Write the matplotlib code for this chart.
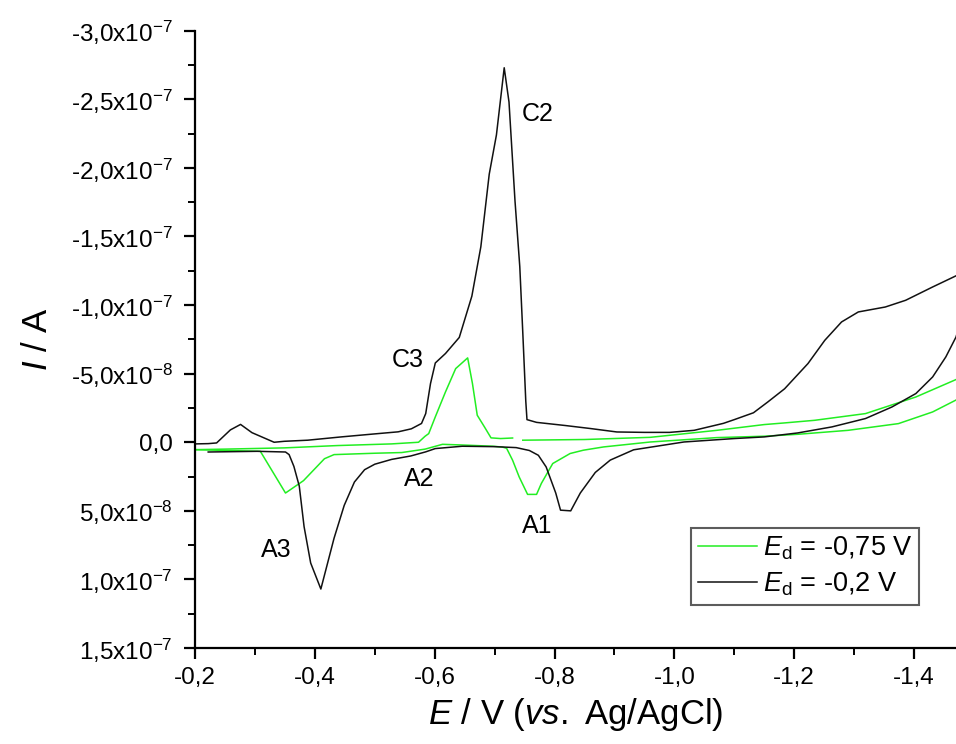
import numpy as np
import matplotlib
matplotlib.use("Agg")
import matplotlib.pyplot as plt
from matplotlib.ticker import MultipleLocator, FuncFormatter

plt.rcParams['font.family'] = ['Liberation Sans', 'DejaVu Sans']
plt.rcParams['mathtext.fontset'] = 'custom'
plt.rcParams['mathtext.rm'] = 'Liberation Sans'
plt.rcParams['mathtext.it'] = 'Liberation Sans:italic'
plt.rcParams['mathtext.default'] = 'regular'

# courbe noire, Ed = -0,2 V (courant en 1e-8 A)
E_noir_aller = [-0.200, -0.222, -0.236, -0.259, -0.276, -0.295, -0.332, -0.349, -0.388,
                -0.444, -0.500, -0.539, -0.561, -0.578, -0.585, -0.593, -0.601, -0.618,
                -0.641, -0.662, -0.677, -0.691, -0.703, -0.716, -0.724, -0.734, -0.742,
                -0.747, -0.752, -0.754, -0.770, -0.818, -0.860, -0.904, -0.950, -0.992,
                -1.033, -1.082, -1.100, -1.132, -1.156, -1.184, -1.223, -1.251, -1.279,
                -1.307, -1.352, -1.386, -1.431, -1.480, -1.490]
I_noir_aller = [0.12, 0.10, 0.05, -0.90, -1.30, -0.70, 0.00, -0.07, -0.15,
                -0.39, -0.61, -0.76, -0.98, -1.37, -2.09, -4.28, -5.78, -6.47,
                -7.64, -10.65, -14.25, -19.54, -22.4, -27.3, -24.8, -17.6, -12.8,
                -8.0, -3.0, -1.65, -1.45, -1.22, -1.00, -0.75, -0.72, -0.72,
                -0.87, -1.38, -1.65, -2.15, -2.94, -3.90, -5.74, -7.43, -8.77,
                -9.50, -9.86, -10.35, -11.32, -12.34, -12.5]

E_noir_retour = [-1.490, -1.480, -1.470, -1.453, -1.431, -1.403, -1.363, -1.319, -1.263,
                 -1.206, -1.150, -1.100, -1.016, -0.932, -0.893, -0.868, -0.843, -0.827,
                 -0.810, -0.802, -0.786, -0.773, -0.758, -0.736, -0.700, -0.646, -0.601,
                 -0.585, -0.560, -0.528, -0.500, -0.483, -0.466, -0.449, -0.432, -0.410,
                 -0.393, -0.382, -0.374, -0.365, -0.357, -0.351, -0.304, -0.222]
I_noir_retour = [-10.0, -9.13, -7.67, -6.22, -4.76, -3.55, -2.57, -1.73, -1.12,
                 -0.68, -0.39, -0.27, -0.02, 0.55, 1.30, 2.20, 3.70, 5.00,
                 4.95, 3.70, 1.80, 0.95, 0.60, 0.39, 0.32, 0.29, 0.46,
                 0.70, 1.00, 1.25, 1.60, 2.00, 2.90, 4.60, 7.00, 10.7,
                 8.80, 6.15, 3.20, 1.76, 0.90, 0.71, 0.66, 0.71]

# courbe verte, Ed = -0,75 V
E_vert_aller = [-0.200, -0.250, -0.349, -0.438, -0.528, -0.573, -0.584, -0.590, -0.601,
                -0.618, -0.635, -0.655, -0.663, -0.671, -0.683, -0.694, -0.710, -0.730,
                np.nan, -0.747, -0.850, -0.960, -1.071, -1.150, -1.184, -1.234, -1.319,
                -1.403, -1.480]
I_vert_aller = [0.54, 0.50, 0.41, 0.24, 0.12, 0.00, -0.44, -0.63, -1.85,
                -3.67, -5.37, -6.15, -4.28, -1.97, -1.12, -0.32, -0.27, -0.31,
                np.nan, -0.15, -0.20, -0.36, -0.87, -1.29, -1.41, -1.60, -2.09,
                -3.30, -4.76]

E_vert_retour = [-1.480, -1.431, -1.374, -1.290, -1.206, -1.150, -1.071, -0.960, -0.882,
                 -0.848, -0.826, -0.797, -0.778, -0.770, -0.755, -0.741, -0.730, -0.720,
                 -0.713, -0.697, -0.646, -0.613, -0.584, -0.545, -0.500, -0.432, -0.416,
                 -0.381, -0.351, -0.309, -0.200]
I_vert_retour = [-3.30, -2.21, -1.36, -0.87, -0.58, -0.44, -0.34, -0.02, 0.34,
                 0.58, 0.82, 1.55, 3.00, 3.80, 3.80, 2.53, 1.31, 0.44,
                 0.35, 0.29, 0.20, 0.15, 0.50, 0.75, 0.80, 0.90, 1.20,
                 2.80, 3.70, 0.66, 0.54]

# étiquettes des pics (E en V, I en 1e-8 A)
pics_noms = ['C2', 'C3', 'A2', 'A1', 'A3']
pics_E = [-0.772, -0.555, -0.574, -0.771, -0.335]
pics_I = [-23.9, -6.0, 2.67, 6.07, 7.89]


def format_y(v, pos):
    if abs(v) < 1e-12:
        return "0,0"
    e = int(np.floor(np.log10(abs(v)) + 1e-9))
    m = v / 10**e
    txt = f"{m:.1f}".replace('.', ',')
    return txt + "x10$^{" + str(e) + "}$"


fig = plt.figure(figsize=(9.56, 7.44), dpi=100)
ax = fig.add_axes([0.204, 0.129, 0.796, 0.8297])

ech = 1e-8
ax.plot(E_vert_aller, np.array(I_vert_aller) * ech, color='#22ee22', lw=1.1,
        label=r'$\mathit{E}_\mathrm{d}$ = -0,75 V')
ax.plot(E_vert_retour, np.array(I_vert_retour) * ech, color='#22ee22', lw=1.1)
ax.plot(E_noir_aller, np.array(I_noir_aller) * ech, color='#111111', lw=1.1,
        label=r'$\mathit{E}_\mathrm{d}$ = -0,2 V')
ax.plot(E_noir_retour, np.array(I_noir_retour) * ech, color='#111111', lw=1.1)

for nom, e, i in zip(pics_noms, pics_E, pics_I):
    ax.text(e, i * ech, nom, fontsize=18, ha='center', va='center')

ax.set_xlim(-0.2, -1.47)
ax.set_ylim(1.5e-7, -3.0e-7)
ax.xaxis.set_major_locator(MultipleLocator(0.2))
ax.xaxis.set_minor_locator(MultipleLocator(0.1))
ax.yaxis.set_major_locator(MultipleLocator(5e-8))
ax.yaxis.set_minor_locator(MultipleLocator(2.5e-8))
ax.xaxis.set_major_formatter(FuncFormatter(lambda v, p: f"{v:.1f}".replace('.', ',')))
ax.yaxis.set_major_formatter(FuncFormatter(format_y))

for s in ['top', 'right']:
    ax.spines[s].set_visible(False)
for s in ['left', 'bottom']:
    ax.spines[s].set_linewidth(1.6)

ax.tick_params(which='major', direction='out', length=8, width=1.6)
ax.tick_params(which='minor', direction='out', length=5, width=1.4)
ax.tick_params(axis='x', labelsize=17.5, pad=6)
ax.tick_params(axis='y', labelsize=17.5, pad=8)

ax.set_xlabel(r'$\mathit{E}$ / V ($\mathit{vs.}$ Ag/AgCl)', fontsize=25, labelpad=5)
ax.set_ylabel(r'$\mathit{I}$ / A', fontsize=25, labelpad=12)

leg = ax.legend(loc='upper left', bbox_to_anchor=(691 / 956, 1 - 528 / 744),
                bbox_transform=fig.transFigure, fontsize=19.5, frameon=True,
                fancybox=False, borderpad=0.25, handlelength=2.2,
                handletextpad=0.2, labelspacing=0.3, borderaxespad=0)
leg.get_frame().set_edgecolor('#333333')
leg.get_frame().set_linewidth(1.5)

fig.savefig('out.png', dpi=100)
